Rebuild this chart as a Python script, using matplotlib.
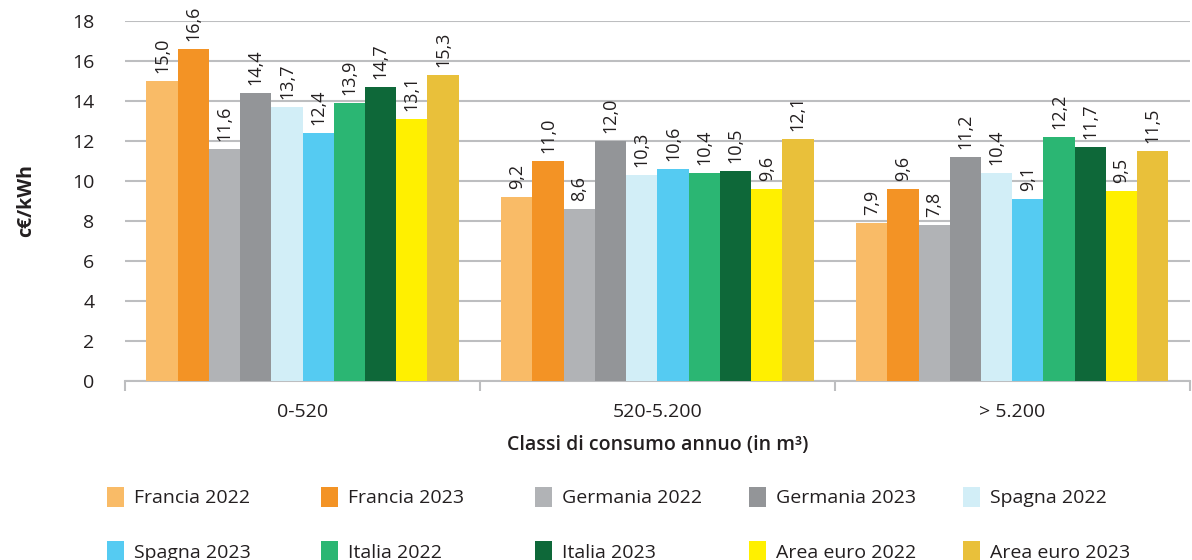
import numpy as np
from matplotlib import pyplot as plt
from matplotlib.patches import Patch

plt.rcParams['font.family'] = ['Open Sans', 'DejaVu Sans']

categories = ['0-520', '520-5.200', '> 5.200']
series_names = ['Francia 2022', 'Francia 2023', 'Germania 2022', 'Germania 2023',
                'Spagna 2022', 'Spagna 2023', 'Italia 2022', 'Italia 2023',
                'Area euro 2022', 'Area euro 2023']
francia_2022 = [15.0, 9.2, 7.9]
francia_2023 = [16.6, 11.0, 9.6]
germania_2022 = [11.6, 8.6, 7.8]
germania_2023 = [14.4, 12.0, 11.2]
spagna_2022 = [13.7, 10.3, 10.4]
spagna_2023 = [12.4, 10.6, 9.1]
italia_2022 = [13.9, 10.4, 12.2]
italia_2023 = [14.7, 10.5, 11.7]
euro_2022 = [13.1, 9.6, 9.5]
euro_2023 = [15.3, 12.1, 11.5]
series_values = [francia_2022, francia_2023, germania_2022, germania_2023,
                 spagna_2022, spagna_2023, italia_2022, italia_2023,
                 euro_2022, euro_2023]
colors = ['#F9BB67', '#F39325', '#B1B3B6', '#939598', '#D2EEF7',
          '#55CBF2', '#2BB673', '#0E6839', '#FFF000', '#E9C03A']

text_color = '#231F20'

fig = plt.figure(figsize=(11.92, 5.6), dpi=100)
ax = fig.add_axes([0.105, 0.3196, 0.893, 0.6429])

n = len(series_names)
group_width = 0.88
bar_w = group_width / n
x = np.arange(len(categories))
for i, (name, vals, c) in enumerate(zip(series_names, series_values, colors)):
    pos = x - group_width / 2 + bar_w * (i + 0.5)
    ax.bar(pos, vals, width=bar_w, color=c, label=name, zorder=3)
    for p, v in zip(pos, vals):
        ax.text(p, v + 0.4, f'{v:.1f}'.replace('.', ','), rotation=90,
                ha='center', va='bottom', fontsize=13, color=text_color, zorder=4)

ax.set_ylim(0, 18)
ax.set_xlim(-0.5, len(categories) - 0.5)
ax.set_yticks(np.arange(0, 19, 2))
ax.tick_params(axis='y', length=0, labelsize=14, pad=22, colors=text_color)
ax.grid(axis='y', color='#BDBEC0', linewidth=1.5, zorder=0)
ax.set_xticks(x)
ax.set_xticklabels(categories, fontsize=14, color=text_color)
ax.tick_params(axis='x', length=0, pad=16)
ax.set_xticks(np.arange(-0.5, len(categories)), minor=True)
ax.tick_params(axis='x', which='minor', length=7, color='#BDBEC0', width=1.5)
for s in ['top', 'right', 'left']:
    ax.spines[s].set_visible(False)
ax.spines['bottom'].set_color('#BDBEC0')
ax.spines['bottom'].set_linewidth(1.5)

ax.set_ylabel('c€/kWh', fontsize=14, fontweight='bold', labelpad=26, color=text_color)
ax.set_xlabel('Classi di consumo annuo (in m³)', fontsize=14, fontweight='semibold',
              labelpad=10, color=text_color)

# legend: 5 evenly spaced columns, filled row by row
n_cols = 5
for col in range(n_cols):
    idx = [col, col + n_cols]
    handles = [Patch(facecolor=colors[k], edgecolor='none') for k in idx]
    labels = [series_names[k] for k in idx]
    fig.legend(handles, labels, loc='upper left',
               bbox_to_anchor=(0.083 + col * 0.1795, 0.145),
               frameon=False, fontsize=14, handlelength=0.9, handleheight=1.2,
               handletextpad=0.5, labelspacing=1.75, borderaxespad=0,
               labelcolor=text_color)

fig.savefig('out.png', dpi=100)
